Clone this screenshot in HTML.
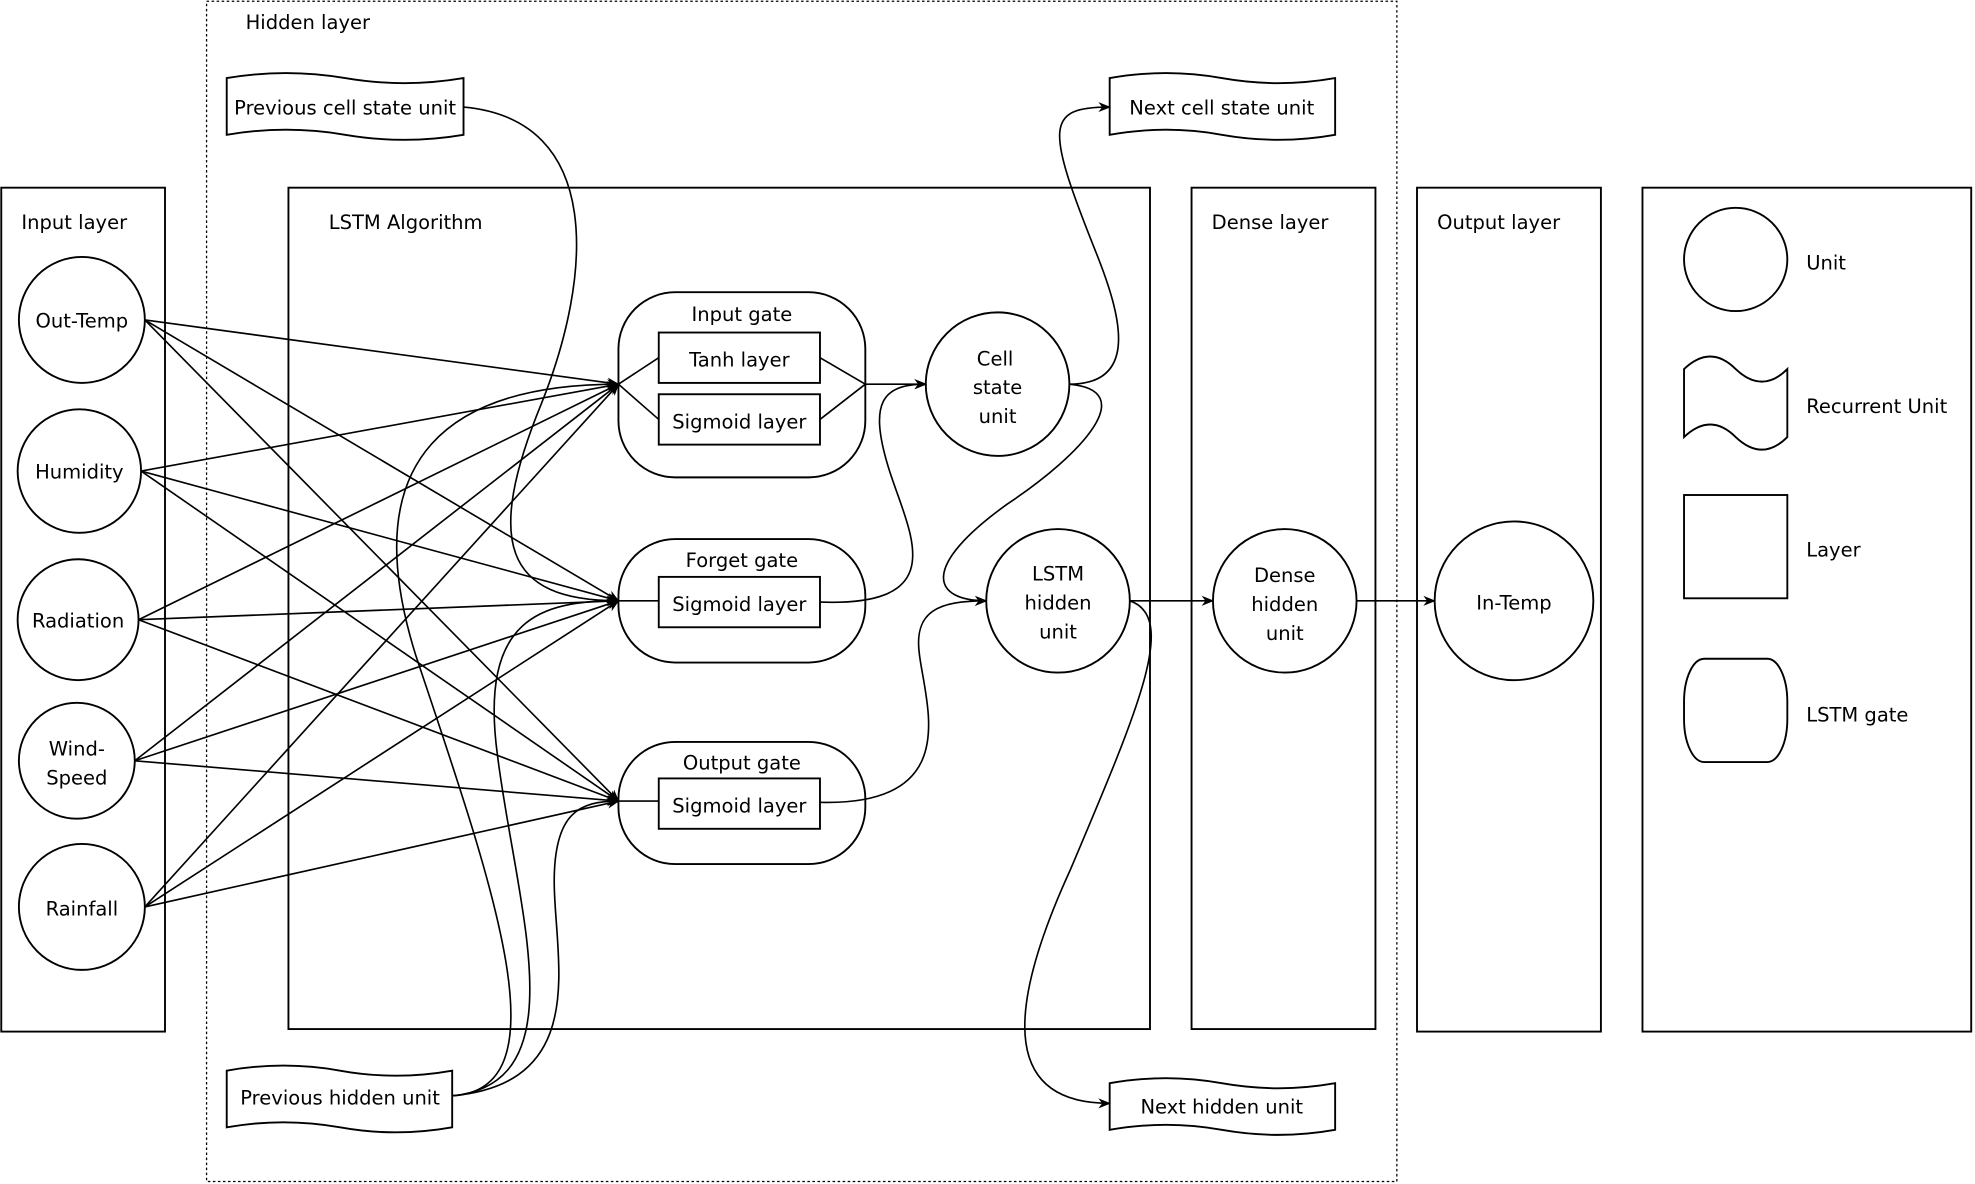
<!DOCTYPE html>
<html><head><meta charset="utf-8"><style>
html,body{margin:0;padding:0;background:#fff}
svg{display:block}
text{font-family:"DejaVu Sans","Liberation Sans",sans-serif;font-size:15.5px;fill:#000}
</style></head><body>
<svg width="1975" height="1184" viewBox="0 0 1568 940" xmlns="http://www.w3.org/2000/svg">
<defs><marker id="a" markerWidth="10" markerHeight="10" refX="9" refY="5" orient="auto" markerUnits="userSpaceOnUse"><path d="M0,1 L10,5 L0,9 L3,5 Z" fill="#000"/></marker></defs>
<g fill="none" stroke="#000" stroke-width="1.5">
<rect x="164" y="1" width="945" height="937" stroke-dasharray="2,2" stroke-width="1"/>
<rect x="1" y="149" width="130" height="670"/>
<rect x="229" y="149" width="684" height="668"/>
<rect x="946" y="149" width="146" height="668"/>
<rect x="1125" y="149" width="146" height="670"/>
<rect x="1304" y="149" width="261" height="670"/>
<circle cx="65" cy="254" r="50"/><circle cx="63" cy="374" r="49"/><circle cx="62" cy="492" r="48"/><circle cx="61" cy="604" r="46"/><circle cx="65" cy="720" r="50"/>
<rect x="491" y="232" width="196" height="147" rx="45" ry="45"/>
<rect x="523" y="264" width="128" height="40"/><rect x="523" y="313" width="128" height="40"/>
<rect x="491" y="428" width="196" height="98" rx="45" ry="45"/>
<rect x="523" y="458" width="128" height="40"/>
<rect x="491" y="589" width="196" height="97" rx="45" ry="45"/>
<rect x="523" y="618" width="128" height="40"/>
<circle cx="792" cy="305" r="57"/><circle cx="840" cy="477" r="57"/><circle cx="1020" cy="477" r="57"/><circle cx="1202" cy="477" r="63"/>
<circle cx="1378" cy="206" r="41"/>
<path d="M1337,293 Q1358,273 1378,293 Q1399,313 1419,293 L1419,347 Q1399,367 1378,347 Q1358,327 1337,347 Z"/>
<rect x="1337" y="393" width="82" height="82"/>
<rect x="1337" y="523" width="82" height="82" rx="16" ry="34"/>
<path d="M180,62 Q227,54 274,62 Q321,70 368,62 L368,107 Q321,115 274,107 Q227,99 180,107 Z"/>
<path d="M881,62 Q926,54 970,62 Q1015,70 1060,62 L1060,107 Q1015,115 970,107 Q926,99 881,107 Z"/>
<path d="M180,850 Q225,842 270,850 Q314,858 359,850 L359,895 Q314,903 270,895 Q225,887 180,895 Z"/>
<path d="M881,860 Q926,852 970,860 Q1015,868 1060,860 L1060,897 Q1015,905 970,897 Q926,889 881,897 Z"/>
<g stroke-width="1.3" marker-end="url(#a)">
<line x1="115" y1="254" x2="491" y2="305"/><line x1="115" y1="254" x2="491" y2="477"/><line x1="115" y1="254" x2="491" y2="636"/>
<line x1="112" y1="374" x2="491" y2="305"/><line x1="112" y1="374" x2="491" y2="477"/><line x1="112" y1="374" x2="491" y2="636"/>
<line x1="110" y1="492" x2="491" y2="305"/><line x1="110" y1="492" x2="491" y2="477"/><line x1="110" y1="492" x2="491" y2="636"/>
<line x1="107" y1="604" x2="491" y2="305"/><line x1="107" y1="604" x2="491" y2="477"/><line x1="107" y1="604" x2="491" y2="636"/>
<line x1="115" y1="720" x2="491" y2="305"/><line x1="115" y1="720" x2="491" y2="477"/><line x1="115" y1="720" x2="491" y2="636"/>
<path d="M368,85 C480,95 470,220 430,320 C385,430 400,477 491,477"/>
<path d="M359,870 C450,865 390,700 330,520 C280,360 360,305 491,305"/>
<path d="M359,870 C460,860 410,720 395,600 C380,490 430,477 491,477"/>
<path d="M359,870 C470,860 440,760 440,700 C440,645 460,636 491,636"/>
<line x1="687" y1="305" x2="735" y2="305"/>
<path d="M651,478 C760,482 720,420 705,370 C690,320 700,305 735,305"/>
<path d="M651,637 C765,640 735,560 730,520 C725,485 745,477 783,477"/>
<path d="M849,305 C905,305 890,250 870,200 C830,100 830,85 881,85"/>
<path d="M849,305 C905,310 860,360 800,400 C730,450 740,477 783,477"/>
<line x1="897" y1="477" x2="963" y2="477"/>
<line x1="1077" y1="477" x2="1139" y2="477"/>
<path d="M897,477 C935,490 905,560 850,690 C795,810 800,876 881,876"/>
</g>
<g stroke-width="1.3">
<polyline points="491,305 523,284"/><polyline points="491,305 523,333"/>
<polyline points="651,284 687,305 651,333"/>
<line x1="491" y1="477" x2="523" y2="477"/><line x1="491" y1="636" x2="523" y2="636"/>
</g>
</g>
<text x="195" y="23">Hidden layer</text>
<text x="17" y="182">Input layer</text>
<text x="261" y="182">LSTM Algorithm</text>
<text x="962" y="182">Dense layer</text>
<text x="1141" y="182">Output layer</text>
<g text-anchor="middle">
<text x="274" y="91">Previous cell state unit</text>
<text x="970" y="91">Next cell state unit</text>
<text x="270" y="877">Previous hidden unit</text>
<text x="970" y="884">Next hidden unit</text>
<text x="65" y="260">Out-Temp</text>
<text x="63" y="380">Humidity</text>
<text x="62" y="498">Radiation</text>
<text x="61" y="600">Wind-</text><text x="61" y="623">Speed</text>
<text x="65" y="727">Rainfall</text>
<text x="589" y="255">Input gate</text>
<text x="587" y="291">Tanh layer</text>
<text x="587" y="340">Sigmoid layer</text>
<text x="589" y="450">Forget gate</text>
<text x="587" y="485">Sigmoid layer</text>
<text x="589" y="611">Output gate</text>
<text x="587" y="645">Sigmoid layer</text>
<text x="790" y="290">Cell</text><text x="792" y="313">state</text><text x="792" y="336">unit</text>
<text x="840" y="461">LSTM</text><text x="840" y="484">hidden</text><text x="840" y="507">unit</text>
<text x="1020" y="462">Dense</text><text x="1020" y="485">hidden</text><text x="1020" y="508">unit</text>
<text x="1202" y="484">In-Temp</text>
</g>
<text x="1434" y="214">Unit</text>
<text x="1434" y="328">Recurrent Unit</text>
<text x="1434" y="442">Layer</text>
<text x="1434" y="573">LSTM gate</text>
</svg>
</body></html>
